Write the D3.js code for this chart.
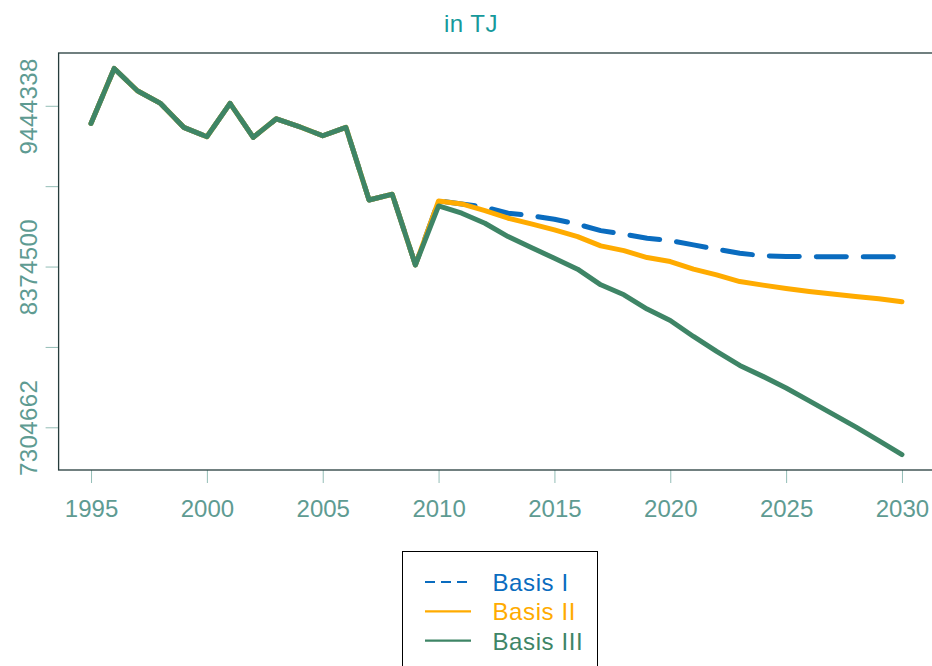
<!DOCTYPE html>
<html><head><meta charset="utf-8">
<script src="https://cdn.jsdelivr.net/npm/d3@7"></script>
<style>
html,body{margin:0;padding:0;background:#fff;}
svg{display:block;font-family:"Liberation Sans",Arial,sans-serif;}
</style></head>
<body>
<svg id="chart" width="932" height="666"></svg>
<script>
const years = [1995,1996,1997,1998,1999,2000,2001,2002,2003,2004,2005,2006,2007,2008,2009,
  2010,2011,2012,2013,2014,2015,2016,2017,2018,2019,2020,2021,2022,2023,2024,2025,2026,2027,2028,2029,2030];
const history = [9327400,9692900,9544000,9460300,9300800,9238400,9460300,9234400,9358000,9304800,9245000,9300800,8817700,8855600,8385800];
const basisI = [8811100,8791100,8769200,8729300,8713400,8689500,8656300,8613700,8589800,8563200,8547300,8518700,8490100,8463500,8445600,8441000,8440500,8440200,8440000,8440000,8440000];
const basisII = [8811100,8791100,8746600,8696100,8658200,8618400,8573900,8512100,8480800,8434300,8407700,8357200,8319400,8274800,8250900,8228300,8208400,8191100,8175200,8159900,8139900];
const basisIII = [8777900,8729300,8662900,8573900,8500800,8430300,8357200,8252900,8186500,8091400,8015700,7909400,7809700,7716600,7643600,7566500,7480100,7393700,7307300,7216300,7123300];
const seriesNames = ["Basis I","Basis II","Basis III"];
const seriesColors = ["#0a6cbf","#ffab00","#3e8566"];
const yTicks = [7304662,7839581,8374500,8909419,9444338];
const yTickLabels = ["7304662","","8374500","","9444338"];
const xTicks = [1995,2000,2005,2010,2015,2020,2025,2030];
const title = "in TJ";

const svg = d3.select("#chart");
const pL = 58.6, pR = 934.4, pT = 53, pB = 470;

const scen = [basisI, basisII, basisIII];
const series = scen.map((s,i) => ({name: seriesNames[i], color: seriesColors[i],
  values: history.concat(s).map((v,j) => ({x: years[j], y: v}))}));

const all = series.flatMap(s => s.values.map(d => d.y));
const ymin = d3.min(all), ymax = d3.max(all);
const ypad = (ymax - ymin) * 0.04;
const xpad = (d3.max(years) - d3.min(years)) * 0.04;
const x = d3.scaleLinear().domain([d3.min(years) - xpad, d3.max(years) + xpad]).range([pL, pR]);
const y = d3.scaleLinear().domain([ymin - ypad, ymax + ypad]).range([pB, pT]);

const axisColor = "#5e9b92";
const tickColor = "#93bdb6";

// title
svg.append("text").attr("x", 471).attr("y", 32).attr("text-anchor", "middle")
  .attr("font-size", 24).attr("letter-spacing", 0.5).attr("fill", "#16999b").text(title);

// x axis
const xAxis = svg.append("g").attr("transform", `translate(0,${pB})`)
  .call(d3.axisBottom(x).tickValues(xTicks).tickFormat(d3.format("d")).tickSizeInner(13).tickSizeOuter(0).tickPadding(17));
xAxis.select(".domain").remove();
xAxis.selectAll(".tick line").attr("stroke", tickColor);
xAxis.selectAll(".tick text").attr("fill", axisColor).attr("font-size", 24).attr("font-family", "Liberation Sans, Arial, sans-serif");

// y axis
const yAxis = svg.append("g").attr("transform", `translate(${pL},0)`)
  .call(d3.axisLeft(y).tickValues(yTicks).tickFormat((d,i) => yTickLabels[i]).tickSizeInner(13).tickSizeOuter(0));
yAxis.select(".domain").remove();
yAxis.selectAll(".tick line").attr("stroke", tickColor);
yAxis.selectAll(".tick text")
  .attr("fill", axisColor).attr("font-size", 24).attr("font-family", "Liberation Sans, Arial, sans-serif")
  .attr("text-anchor", "middle").attr("dy", 0).attr("x", null).attr("letter-spacing", 0.4)
  .attr("transform", `translate(${36.7 - pL},0) rotate(-90)`);

// box
svg.append("rect").attr("x", pL).attr("y", pT).attr("width", pR - pL).attr("height", pB - pT)
  .attr("fill", "none").attr("stroke", "#263c3c").attr("stroke-width", 1.3);

// lines
const line = d3.line().x(d => x(d.x)).y(d => y(d.y));
series.forEach((s,i) => {
  svg.append("path").datum(s.values).attr("d", line)
    .attr("fill", "none").attr("stroke", s.color).attr("stroke-width", 5)
    .attr("stroke-linecap", "round").attr("stroke-linejoin", "round")
    .attr("stroke-dasharray", i === 0 ? "30,17" : null);
});

// legend
const lg = svg.append("g");
lg.append("rect").attr("x", 402.5).attr("y", 551.5).attr("width", 195).attr("height", 130)
  .attr("fill", "#fff").attr("stroke", "#000").attr("stroke-width", 1);
series.forEach((s,i) => {
  const yy = 582 + i * 29.3;
  lg.append("line").attr("x1", 425).attr("x2", 471).attr("y1", yy).attr("y2", yy)
    .attr("stroke", s.color).attr("stroke-width", 2.2)
    .attr("stroke-dasharray", i === 0 ? "10,6" : null);
  lg.append("text").attr("x", 492.5).attr("y", yy + 9).attr("font-size", 24).attr("letter-spacing", 0.6)
    .attr("fill", s.color).text(s.name);
});
</script>
</body></html>
